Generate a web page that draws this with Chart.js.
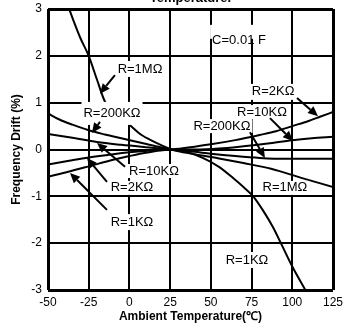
<!DOCTYPE html>
<html>
<head>
<meta charset="utf-8">
<title>Frequency Drift vs Temperature</title>
<script src="https://cdn.jsdelivr.net/npm/chart.js@4.4.1/dist/chart.umd.min.js"></script>
<style>
  html, body { margin: 0; padding: 0; background: #fff; overflow: hidden; }
  #wrap { width: 355px; height: 325px; overflow: hidden; position: relative; }
  /* canvas is pushed up a bit so the title is cut like in the scan */
  #chart { position: absolute; left: 0; top: -10px; }
</style>
</head>
<body>
<div id="wrap"><canvas id="chart" width="355" height="335"></canvas></div>
<script>
// -----------------------------
// data (temperature °C -> drift %)
// -----------------------------
const xTicks = [-50, -25, 0, 25, 50, 75, 100, 125];
const yTicks = [-3, -2, -1, 0, 1, 2, 3];

const r1mTemp  = [-38, -34, -30, -25, -20, -15, -10, -5, 0, 7, 15, 26, 40, 55, 70, 87, 105, 125];
const r1mDrift = [3.1, 2.72, 2.37, 2.0, 1.5, 1.02, 0.8, 0.66, 0.53, 0.32, 0.17, 0, -0.1, -0.19, -0.29, -0.41, -0.6, -0.8];

const r200kTemp  = [-50, -43, -35, -25, -15, -5, 5, 15, 26, 40, 50, 65, 80, 95, 110, 125];
const r200kDrift = [0.77, 0.64, 0.53, 0.41, 0.32, 0.24, 0.16, 0.08, 0, -0.05, -0.09, -0.14, -0.18, -0.2, -0.2, -0.2];

const r10kTemp  = [-50, -35, -20, -5, 10, 26, 40, 55, 70, 85, 100, 112, 125];
const r10kDrift = [0.33, 0.25, 0.16, 0.1, 0.05, 0, 0, 0.02, 0.07, 0.13, 0.2, 0.24, 0.27];

const r2kTemp  = [-50, -37, -25, -10, 0, 10, 26, 40, 50, 65, 80, 90, 100, 110, 117, 125];
const r2kDrift = [-0.32, -0.24, -0.17, -0.1, -0.06, -0.03, 0, 0.06, 0.11, 0.2, 0.31, 0.39, 0.5, 0.61, 0.7, 0.8];

const r1kTemp  = [-50, -37, -25, -10, 0, 10, 26, 35, 45, 55, 64, 70, 76, 82, 88, 93, 100, 108];
const r1kDrift = [-0.58, -0.47, -0.36, -0.22, -0.14, -0.07, 0, -0.05, -0.18, -0.37, -0.62, -0.8, -1.0, -1.3, -1.65, -2.0, -2.5, -3.0];

// text notes and arrows, placed in data units
const notes = [
  { text: "C=0.01 F", x: 67.3, y: 2.32, bg: [-16, -2] },
  { text: "R=1MΩ",    x: 6.5,  y: 1.72, bg: [-8, 8] },
  { text: "R=2KΩ",    x: 88.2, y: 1.23, bg: [-8, 8] },
  { text: "R=200KΩ",  x: -10.7, y: 0.76, bg: [-12, 11] },
  { text: "R=10KΩ",   x: 81.4, y: 0.80, bg: [-7, 7] },
  { text: "R=200KΩ",  x: 56.8, y: 0.50, bg: [-7, 7] },
  { text: "R=10KΩ",   x: 15.1, y: -0.46, bg: [-7, 7] },
  { text: "R=2KΩ",    x: 1.6,  y: -0.82, bg: [-7, 7] },
  { text: "R=1MΩ",    x: 95.5, y: -0.82, bg: [-7, 7] },
  { text: "R=1KΩ",    x: 1.6,  y: -1.55, bg: [-8, 8] },
  { text: "R=1KΩ",    x: 72.2, y: -2.36, bg: [-8, 8] }
];

const arrows = [
  { x0: -8.9,  y0: 1.59,  x1: -18.1, y1: 1.19 },
  { x0: 102.9, y0: 1.10,  x1: 115.8, y1: 0.71 },
  { x0: -18.1, y0: 0.59,  x1: -23.0, y1: 0.35 },
  { x0: 86.3,  y0: 0.67,  x1: 100.4, y1: 0.18 },
  { x0: 74.0,  y0: 0.37,  x1: 83.2,  y1: -0.18 },
  { x0: -2.7,  y0: -0.37, x1: -19.9, y1: 0.14 },
  { x0: -13.8, y0: -0.69, x1: -26.1, y1: -0.18 },
  { x0: -13.8, y0: -1.29, x1: -36.5, y1: -0.50 }
];

const FONT = "'Liberation Sans', Arial, Helvetica, sans-serif";

function toPoints(temps, drifts) {
  return temps.map((t, i) => ({ x: t, y: drifts[i] }));
}

function curve(label, temps, drifts) {
  return {
    label: label,
    data: toPoints(temps, drifts),
    borderColor: "#000",
    borderWidth: 2,
    pointRadius: 0,
    fill: false,
    cubicInterpolationMode: "monotone"
  };
}

// -----------------------------
// arrow with filled head
// -----------------------------
function drawArrow(ctx, x0, y0, x1, y1) {
  const ang = Math.atan2(y1 - y0, x1 - x0);
  const head = 10, half = 4.5;
  const bx = x1 - head * Math.cos(ang);
  const by = y1 - head * Math.sin(ang);
  ctx.beginPath();
  ctx.moveTo(x0, y0);
  ctx.lineTo(bx, by);
  ctx.stroke();
  ctx.beginPath();
  ctx.moveTo(x1, y1);
  ctx.lineTo(bx + half * Math.sin(ang), by - half * Math.cos(ang));
  ctx.lineTo(bx - half * Math.sin(ang), by + half * Math.cos(ang));
  ctx.closePath();
  ctx.fill();
}

const notePlugin = {
  id: "notes",
  afterDatasetsDraw(chart) {
    const { ctx, scales: { x, y } } = chart;
    ctx.save();
    ctx.font = "13px " + FONT;
    ctx.textAlign = "center";
    ctx.textBaseline = "middle";

    notes.forEach(n => {
      const px = x.getPixelForValue(n.x);
      const py = y.getPixelForValue(n.y);
      const w = ctx.measureText(n.text).width;
      ctx.fillStyle = "#fff";
      ctx.fillRect(px - w / 2 - 2, py + n.bg[0], w + 4, n.bg[1] - n.bg[0]);
      ctx.fillStyle = "#000";
      ctx.fillText(n.text, px, py);
    });

    ctx.strokeStyle = "#000";
    ctx.fillStyle = "#000";
    ctx.lineWidth = 2;
    arrows.forEach(a => {
      drawArrow(ctx,
        x.getPixelForValue(a.x0), y.getPixelForValue(a.y0),
        x.getPixelForValue(a.x1), y.getPixelForValue(a.y1));
    });
    ctx.restore();
  }
};

// edge grid lines are the heavy frame
function gridWidth(count) {
  return c => (c.index === 0 || c.index === count - 1) ? 3 : 2;
}

new Chart(document.getElementById("chart"), {
  type: "line",
  data: {
    datasets: [
      curve("R=1MΩ", r1mTemp, r1mDrift),
      curve("R=200KΩ", r200kTemp, r200kDrift),
      curve("R=10KΩ", r10kTemp, r10kDrift),
      curve("R=2KΩ", r2kTemp, r2kDrift),
      curve("R=1KΩ", r1kTemp, r1kDrift)
    ]
  },
  options: {
    responsive: false,
    animation: false,
    events: [],
    layout: { padding: { left: 0, right: 22, top: 0, bottom: 0 } },
    plugins: {
      legend: { display: false },
      tooltip: { enabled: false },
      title: {
        display: true,
        text: "Temperature.",
        fullSize: false,
        color: "#000",
        font: { family: FONT, size: 13, weight: "bold" },
        padding: { top: 1, bottom: 2.4 }
      }
    },
    scales: {
      x: {
        type: "linear",
        min: xTicks[0],
        max: xTicks[xTicks.length - 1],
        afterBuildTicks: s => { s.ticks = xTicks.map(v => ({ value: v })); },
        afterFit: s => { s.height = 35; },
        ticks: { color: "#000", font: { family: FONT, size: 12 }, padding: 5, maxRotation: 0 },
        grid: { color: "#000", lineWidth: gridWidth(xTicks.length), drawTicks: false },
        border: { display: false },
        title: {
          display: true,
          text: "Ambient Temperature(℃)",
          color: "#000",
          font: { family: FONT, size: 12, weight: "bold" },
          padding: { top: 0, bottom: 1 }
        }
      },
      y: {
        min: yTicks[0],
        max: yTicks[yTicks.length - 1],
        afterBuildTicks: s => { s.ticks = yTicks.map(v => ({ value: v })); },
        afterFit: s => { s.width = 48; },
        ticks: { color: "#000", font: { family: FONT, size: 12 }, padding: 6 },
        grid: { color: "#000", lineWidth: gridWidth(yTicks.length), drawTicks: false },
        border: { display: false },
        title: {
          display: true,
          text: "Frequency Drift (%)",
          color: "#000",
          font: { family: FONT, size: 12, weight: "bold" },
          padding: { top: 9, bottom: 0 }
        }
      }
    }
  },
  plugins: [notePlugin]
});
</script>
</body>
</html>
